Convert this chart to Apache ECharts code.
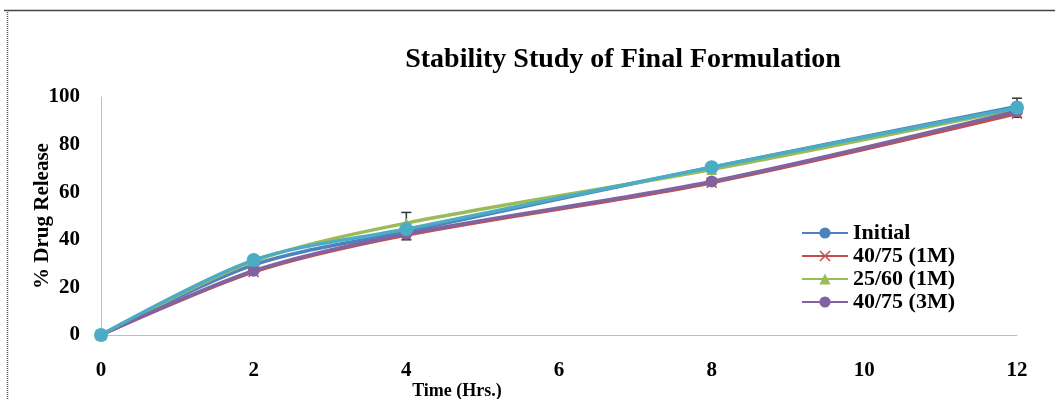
<!DOCTYPE html>
<html>
<head>
<meta charset="utf-8">
<script src="https://cdn.jsdelivr.net/npm/echarts@6/dist/echarts.min.js"></script>
<style>
html,body{margin:0;padding:0;background:#fff;}
#c{width:1055px;height:399px;}
</style>
</head>
<body>
<div id="c"></div>
<script>
var times = [0, 2, 4, 8, 12];
var seriesNames = ['Initial', '40/75 (1M)', '25/60 (1M)', '40/75 (3M)', 'Extra'];
var initialVals = [0, 29.5, 43.5, 70.5, 96];
var m1_4075Vals = [0, 26.5, 42, 64, 93];
var m1_2560Vals = [0, 31, 47, 69.5, 95];
var m3_4075Vals = [0, 27, 42.5, 64.5, 94];
var extraVals = [0, 31.5, 44.5, 70.5, 95.5];
var errorBars = [[4, 40, 51.5], [12, 91.5, 99.5]];
var xTicks = [0, 2, 4, 6, 8, 10, 12];
var yTicks = [0, 20, 40, 60, 80, 100];

var font = 'Liberation Serif';
var colors = ['#4F81BD', '#C0504D', '#9BBB59', '#8064A2', '#4BACC6'];
var symbols = ['circle', 'path://M0,1L1,0L5,4L9,0L10,1L6,5L10,9L9,10L5,6L1,10L0,9L4,5Z', 'triangle', 'circle', 'circle'];
var sizes = [12, 11, 11, 12, 14];
var vals = [initialVals, m1_4075Vals, m1_2560Vals, m3_4075Vals, extraVals];

function pairs(v) { return times.map(function (t, i) { return [t, v[i]]; }); }

var series = vals.map(function (v, i) {
  return {
    name: seriesNames[i],
    type: 'line',
    data: pairs(v),
    smooth: 0.3,
    symbol: symbols[i],
    symbolSize: sizes[i],
    lineStyle: { width: 3.5, color: colors[i] },
    itemStyle: { color: colors[i] },
    z: 3 + i,
    animation: false
  };
});

series.unshift({
  type: 'custom',
  name: 'err',
  z: 2,
  animation: false,
  data: errorBars,
  renderItem: function (params, api) {
    var x = api.value(0);
    var lo = api.coord([x, api.value(1)]);
    var hi = api.coord([x, api.value(2)]);
    var hw = 5;
    var st = { stroke: '#333', lineWidth: 1.5 };
    return {
      type: 'group',
      children: [
        { type: 'line', shape: { x1: lo[0], y1: lo[1], x2: hi[0], y2: hi[1] }, style: st },
        { type: 'line', shape: { x1: lo[0] - hw, y1: lo[1], x2: lo[0] + hw, y2: lo[1] }, style: st },
        { type: 'line', shape: { x1: hi[0] - hw, y1: hi[1], x2: hi[0] + hw, y2: hi[1] }, style: st }
      ]
    };
  }
});

var chart = echarts.init(document.getElementById('c'));
chart.setOption({
  backgroundColor: '#fff',
  animation: false,
  title: {
    text: 'Stability Study of Final Formulation',
    left: 618, top: 41, textAlign: 'center',
    textStyle: { fontFamily: font, fontWeight: 'bold', fontSize: 28, color: '#000' }
  },
  legend: {
    data: seriesNames.slice(0, 4),
    orient: 'vertical',
    left: 796, top: 217,
    itemWidth: 46, itemHeight: 14, itemGap: 1,
    textStyle: { fontFamily: font, fontWeight: 'bold', fontSize: 22, lineHeight: 22, color: '#000' }
  },
  grid: { left: 101, right: 38, top: 97, bottom: 64, outerBoundsMode: 'none', containLabel: false },
  xAxis: {
    type: 'value', min: xTicks[0], max: xTicks[xTicks.length - 1], interval: 2,
    name: 'Time (Hrs.)', nameLocation: 'middle', nameGap: 47, nameMoveOverlap: false,
    nameTextStyle: { fontFamily: font, fontWeight: 'bold', fontSize: 18, color: '#000', padding: [0, 204, 0, 0] },
    axisLine: { lineStyle: { color: '#BFBFBF', width: 1 } },
    axisTick: { show: false },
    splitLine: { show: false },
    axisLabel: { margin: 25, fontFamily: font, fontWeight: 'bold', fontSize: 21, color: '#000' }
  },
  yAxis: {
    type: 'value', min: yTicks[0], max: yTicks[yTicks.length - 1], interval: 20,
    name: '% Drug Release', nameLocation: 'middle', nameGap: 48, nameRotate: 90, nameMoveOverlap: false,
    nameTextStyle: { fontFamily: font, fontWeight: 'bold', fontSize: 21, color: '#000' },
    axisLine: { show: true, lineStyle: { color: '#BFBFBF', width: 1 } },
    axisTick: { show: false },
    splitLine: { show: false },
    axisLabel: { margin: 21, fontFamily: font, fontWeight: 'bold', fontSize: 21, color: '#000' }
  },
  graphic: [
    { type: 'line', shape: { x1: 4, y1: 10.5, x2: 1055, y2: 10.5 }, style: { stroke: '#444', lineWidth: 1.5 }, silent: true },
    { type: 'line', shape: { x1: 7.5, y1: 10, x2: 7.5, y2: 399 }, style: { stroke: '#555', lineWidth: 1.5, lineDash: [1, 1] }, silent: true }
  ],
  series: series
});
</script>
</body>
</html>
